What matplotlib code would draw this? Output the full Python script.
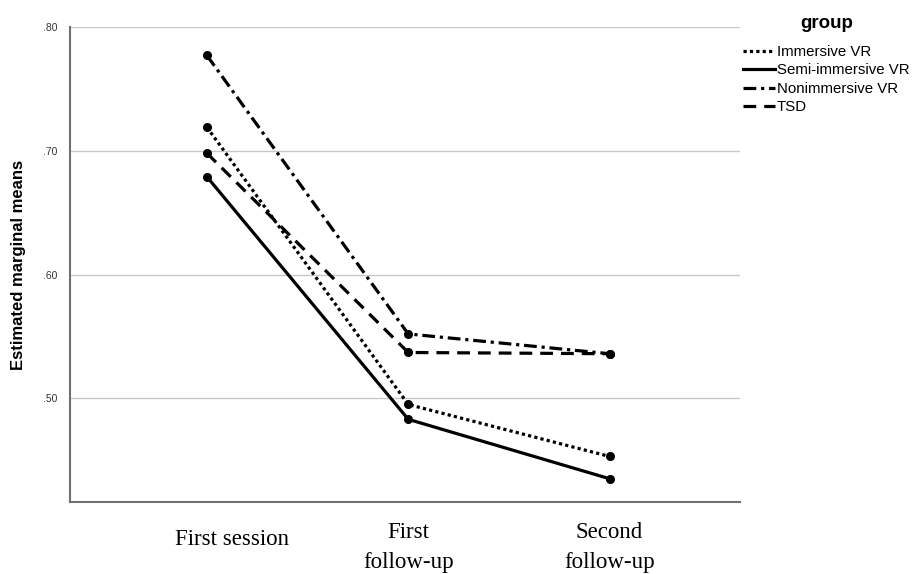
import matplotlib.pyplot as plt
import matplotlib.transforms as mtransforms
import numpy as np

# timepoints and estimated marginal means per group
timepoints = ["First session", "First\nfollow-up", "Second\nfollow-up"]
groups = ["Immersive VR", "Semi-immersive VR", "Nonimmersive VR", "TSD"]
immersive = [0.719, 0.495, 0.453]
semi_immersive = [0.679, 0.483, 0.435]
nonimmersive = [0.777, 0.552, 0.536]
tsd = [0.698, 0.537, 0.536]
y_ticks = [0.50, 0.60, 0.70, 0.80]
y_tick_labels = [".50", ".60", ".70", ".80"]

series = [immersive, semi_immersive, nonimmersive, tsd]
styles = [(0, (1, 1)), "-", (0, (4, 1.5, 1, 1.5)), (0, (4, 2.5))]

plt.rcParams["font.family"] = ["Liberation Sans", "DejaVu Sans"]

fig = plt.figure(figsize=(9.16, 5.74), dpi=100)
ax = fig.add_axes([0.0764, 0.125, 0.732, 0.828])

x = np.arange(len(timepoints))
for name, vals, ls in zip(groups, series, styles):
    ax.plot(x, vals, color="black", linestyle=ls, linewidth=2.3,
            marker="o", markersize=5.5, label=name)

ax.set_xlim(-0.68, 2.65)
ax.set_ylim(0.416, 0.80)
ax.set_yticks(y_ticks)
ax.set_yticklabels(y_tick_labels, fontsize=7.5, color="#333333")
ax.set_xticks(x)
ax.set_xticklabels(timepoints, fontsize=16.5, family="Liberation Serif",
                   linespacing=1.6)
ax.tick_params(axis="both", length=0)
ax.tick_params(axis="x", pad=14)
ax.tick_params(axis="y", pad=9)

# the first label sits a bit right of and below its tick in the original
lbl = ax.get_xticklabels()[0]
lbl.set_transform(lbl.get_transform() +
                  mtransforms.ScaledTranslation(0.25, -0.07, fig.dpi_scale_trans))

ax.grid(axis="y", color="#c8c8c8", linewidth=1)
ax.set_axisbelow(True)
for side in ["top", "right"]:
    ax.spines[side].set_visible(False)
for side in ["left", "bottom"]:
    ax.spines[side].set_color("#707070")
    ax.spines[side].set_linewidth(1.5)

ax.set_ylabel("Estimated marginal means", fontsize=12, fontweight="bold",
              labelpad=12)

leg = ax.legend(loc="upper left", bbox_to_anchor=(0.995, 1.037), frameon=False,
                title="group", fontsize=10.8, handlelength=2.1,
                handletextpad=0.15, labelspacing=0.3, borderaxespad=0)
leg.get_title().set_fontweight("bold")
leg.get_title().set_fontsize(13.5)
leg._legend_box.sep = 9
for h in leg.legend_handles:
    h.set_marker("")

fig.savefig("out.png", dpi=100)
